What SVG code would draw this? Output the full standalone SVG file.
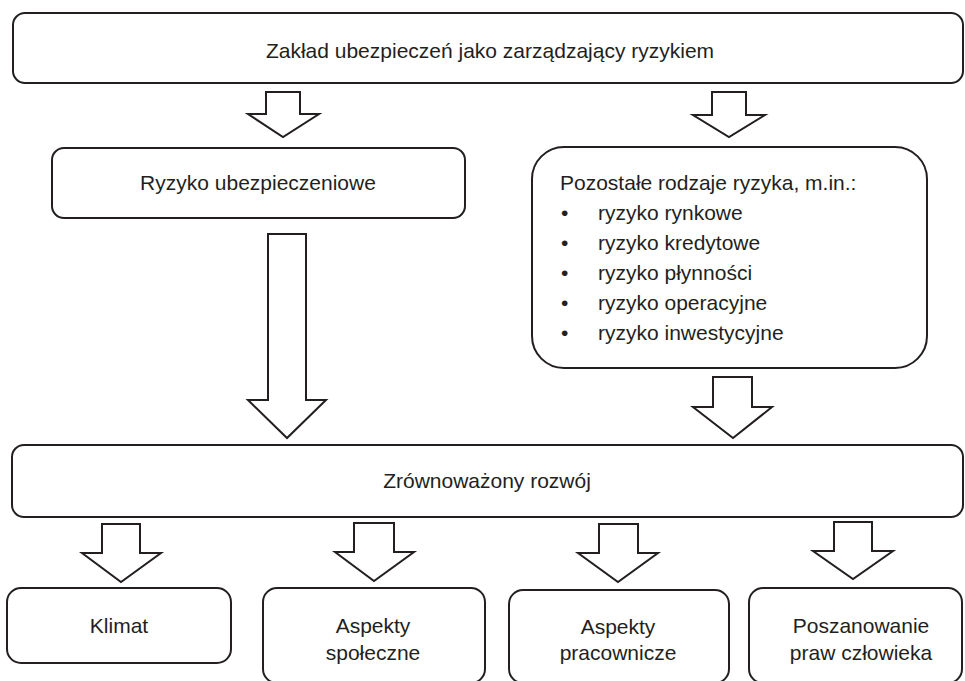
<svg xmlns="http://www.w3.org/2000/svg" width="965" height="681" viewBox="0 0 965 681">
  <style>
    .box { fill: #ffffff; stroke: #231f20; stroke-width: 2; }
    .arrow { fill: #ffffff; stroke: #231f20; stroke-width: 2; stroke-linejoin: miter; }
    .t { font-family: "Liberation Sans", Arial, sans-serif; font-size: 21px; fill: #231f20; }
    .c { text-anchor: middle; }
  </style>
  <rect width="965" height="681" fill="#ffffff"/>

  <!-- connectors: hollow block arrows -->
  <g id="connectors">
    <path class="arrow" d="M266,92 H300 V114 H319 L283,137 L248,114 H266 Z"/>
    <path class="arrow" d="M712,92 H746 V115 H765 L729,137 L693,115 H712 Z"/>
    <path class="arrow" d="M268,234 H306 V400 H326 L287,438 L248,400 H268 Z"/>
    <path class="arrow" d="M713,377 H752 V407 H772 L733,438 L693,407 H713 Z"/>
    <path class="arrow" d="M102,524 H140 V553 H161 L121,582 L82,553 H102 Z"/>
    <path class="arrow" d="M354,523 H394 V552 H414 L374,581 L335,552 H354 Z"/>
    <path class="arrow" d="M599,524 H638 V553 H658 L618,582 L578,553 H599 Z"/>
    <path class="arrow" d="M834,522 H872 V551 H893 L853,579 L813,551 H834 Z"/>
  </g>

  <g id="node-insurer">
    <rect class="box" x="13" y="13" width="950" height="70" rx="12"/>
    <text class="t c" x="490" y="58">Zakład ubezpieczeń jako zarządzający ryzykiem</text>
  </g>

  <g id="node-insurance-risk">
    <rect class="box" x="52" y="148" width="413" height="70" rx="12"/>
    <text class="t c" x="258" y="190">Ryzyko ubezpieczeniowe</text>
  </g>

  <g id="node-other-risks">
    <rect class="box" x="532" y="147" width="395" height="221" rx="32"/>
    <text class="t" x="560" y="190">Pozostałe rodzaje ryzyka, m.in.:</text>
    <g class="t">
      <text x="561" y="220">•</text><text x="598" y="220">ryzyko rynkowe</text>
      <text x="561" y="250">•</text><text x="598" y="250">ryzyko kredytowe</text>
      <text x="561" y="280">•</text><text x="598" y="280">ryzyko płynności</text>
      <text x="561" y="310">•</text><text x="598" y="310">ryzyko operacyjne</text>
      <text x="561" y="340">•</text><text x="598" y="340">ryzyko inwestycyjne</text>
    </g>
  </g>

  <g id="node-sustainability">
    <rect class="box" x="12" y="445" width="951" height="72" rx="12"/>
    <text class="t c" x="487" y="488">Zrównoważony rozwój</text>
  </g>

  <g id="node-climate">
    <rect class="box" x="7" y="588" width="224" height="75" rx="14"/>
    <text class="t c" x="119" y="633">Klimat</text>
  </g>

  <g id="node-social">
    <rect class="box" x="263" y="588" width="222" height="95" rx="14"/>
    <text class="t c" x="373" y="633">Aspekty</text>
    <text class="t c" x="373" y="660">społeczne</text>
  </g>

  <g id="node-employee">
    <rect class="box" x="509" y="590" width="220" height="93" rx="14"/>
    <text class="t c" x="618" y="634">Aspekty</text>
    <text class="t c" x="618" y="660">pracownicze</text>
  </g>

  <g id="node-human-rights">
    <rect class="box" x="749" y="588" width="213" height="95" rx="14"/>
    <text class="t c" x="861" y="633">Poszanowanie</text>
    <text class="t c" x="861" y="660">praw człowieka</text>
  </g>
</svg>
